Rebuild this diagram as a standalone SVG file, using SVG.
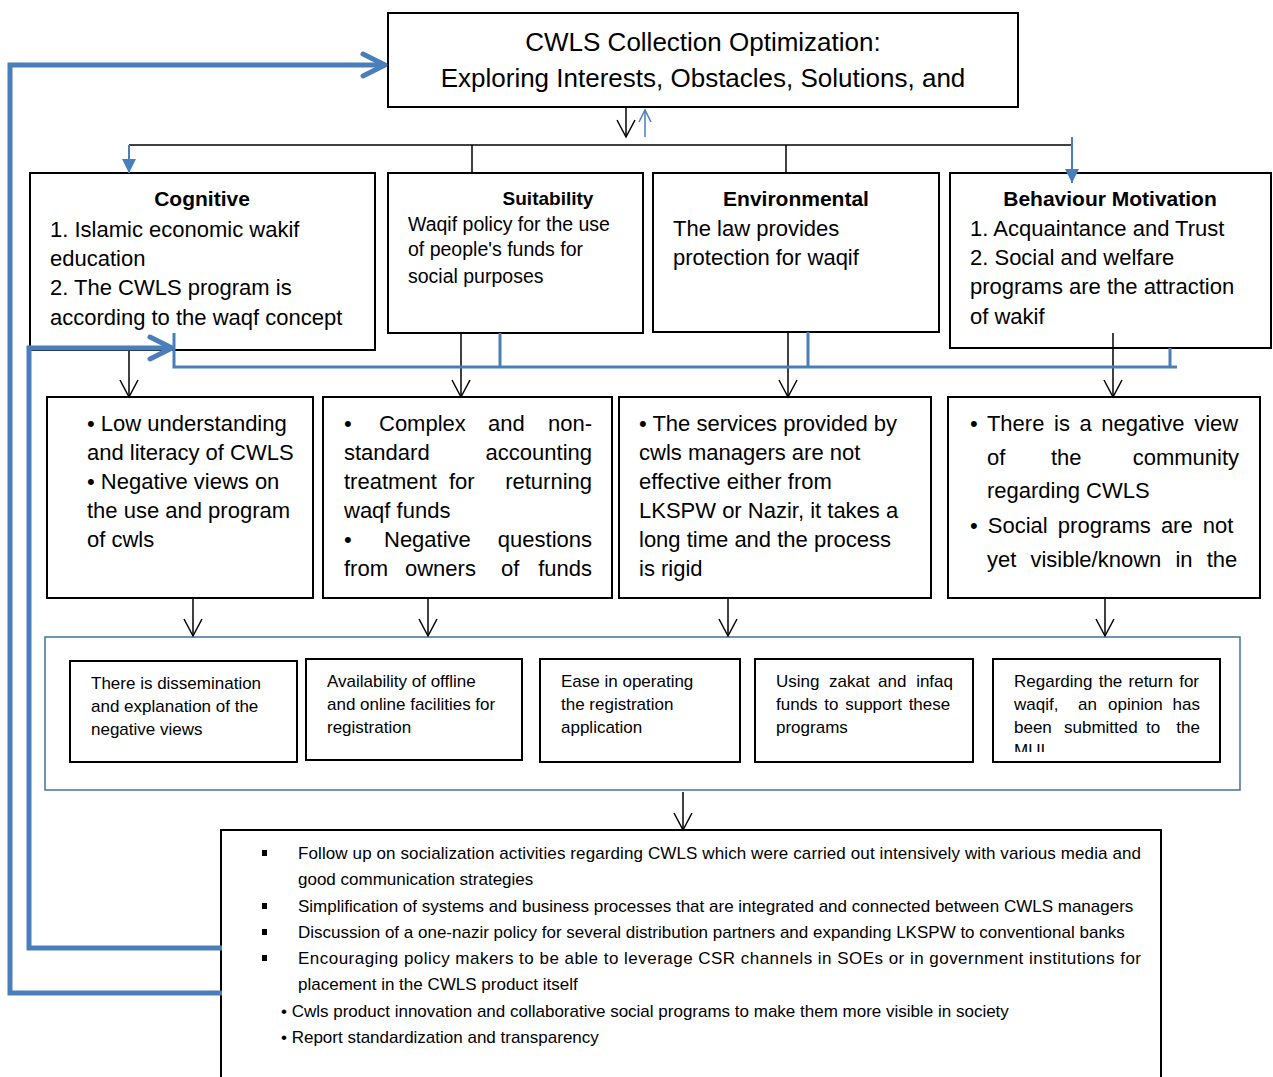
<svg xmlns="http://www.w3.org/2000/svg" width="1273" height="1077" viewBox="0 0 1273 1077">
<defs>
<style>
text{font-family:"Liberation Sans",Arial,sans-serif;fill:#000}
.box{fill:#fff;stroke:#000;stroke-width:2}
.cont{fill:none;stroke:#41719c;stroke-width:1.5}
.t26{font-size:26px}
.h{font-size:21px;font-weight:bold;text-anchor:middle}
.h19{font-size:19px;font-weight:bold;text-anchor:middle}
.t22{font-size:22px}
.t19{font-size:19.5px}
.t17{font-size:17px}
.e{text-anchor:end}
.blk{fill:none;stroke:#000;stroke-width:1.5}
.bl{fill:none;stroke:#4a7ebb}
</style>
<marker id="ob" markerUnits="userSpaceOnUse" markerWidth="40" markerHeight="40" refX="0" refY="0" orient="auto" overflow="visible">
<path d="M-17,-9 L0,0 L-17,9" fill="none" stroke="#000" stroke-width="1.5"/>
</marker>
<marker id="obl" markerUnits="userSpaceOnUse" markerWidth="40" markerHeight="40" refX="0" refY="0" orient="auto" overflow="visible">
<path d="M-12,-6 L0,0 L-12,6" fill="none" stroke="#4a7ebb" stroke-width="1.5"/>
</marker>
<marker id="tri" markerUnits="userSpaceOnUse" markerWidth="40" markerHeight="40" refX="0" refY="0" orient="auto" overflow="visible">
<path d="M-14,-7 L0,0 L-14,7 Z" fill="#4a7ebb" stroke="none"/>
</marker>
<marker id="big" markerUnits="userSpaceOnUse" markerWidth="60" markerHeight="60" refX="0" refY="0" orient="auto" overflow="visible">
<path d="M-22,-11 L0,0 L-22,11" fill="none" stroke="#4a7ebb" stroke-width="5" stroke-linecap="round" stroke-linejoin="round"/>
</marker>
<clipPath id="c5"><rect x="994" y="660" width="225" height="92"/></clipPath>
</defs>

<g id="title">
<rect class="box" x="388" y="13" width="630" height="94"/>
<text class="t26" x="703" y="51" text-anchor="middle">CWLS Collection Optimization:</text>
<text class="t26" x="703" y="87" text-anchor="middle">Exploring Interests, Obstacles, Solutions, and</text>
</g>

<g id="cognitive">
<rect class="box" x="30" y="173" width="345" height="177"/>
<text class="h" x="202" y="206">Cognitive</text>
<text class="t22" x="50" y="237">1. Islamic economic wakif</text>
<text class="t22" x="50" y="266">education</text>
<text class="t22" x="50" y="295">2. The CWLS program is</text>
<text class="t22" x="50" y="325">according to the waqf concept</text>
</g>

<g id="suitability">
<rect class="box" x="388" y="173" width="255" height="160"/>
<text class="h19" x="548" y="205">Suitability</text>
<text class="t19" x="408" y="231">Waqif policy for the use</text>
<text class="t19" x="408" y="256">of people's funds for</text>
<text class="t19" x="408" y="283">social purposes</text>
</g>

<g id="environmental">
<rect class="box" x="653" y="173" width="286" height="159"/>
<text class="h" x="796" y="206">Environmental</text>
<text class="t22" x="673" y="236">The law provides</text>
<text class="t22" x="673" y="265">protection for waqif</text>
</g>

<g id="behaviour">
<rect class="box" x="950" y="173" width="321" height="175"/>
<text class="h" x="1110" y="206">Behaviour Motivation</text>
<text class="t22" x="970" y="236">1. Acquaintance and Trust</text>
<text class="t22" x="970" y="265">2. Social and welfare</text>
<text class="t22" x="970" y="294">programs are the attraction</text>
<text class="t22" x="970" y="324">of wakif</text>
</g>

<g id="obstacle-cognitive">
<rect class="box" x="47" y="397" width="266" height="201"/>
<text class="t22" x="87" y="431">• Low understanding</text>
<text class="t22" x="87" y="460">and literacy of CWLS</text>
<text class="t22" x="87" y="489">• Negative views on</text>
<text class="t22" x="87" y="518">the use and program</text>
<text class="t22" x="87" y="547">of cwls</text>
</g>

<g id="obstacle-suitability">
<rect class="box" x="323" y="397" width="289" height="201"/>
<text class="t22" x="344" y="431">•</text>
<text class="t22" x="379" y="431">Complex</text>
<text class="t22" x="488" y="431">and</text>
<text class="t22 e" x="592" y="431">non-</text>
<text class="t22" x="344" y="460">standard</text>
<text class="t22 e" x="592" y="460">accounting</text>
<text class="t22" x="344" y="489">treatment</text>
<text class="t22" x="449" y="489">for</text>
<text class="t22 e" x="592" y="489">returning</text>
<text class="t22" x="344" y="518">waqf funds</text>
<text class="t22" x="344" y="547">•</text>
<text class="t22" x="384" y="547">Negative</text>
<text class="t22 e" x="592" y="547">questions</text>
<text class="t22" x="344" y="576">from</text>
<text class="t22" x="405" y="576">owners</text>
<text class="t22" x="501" y="576">of</text>
<text class="t22 e" x="592" y="576">funds</text>
</g>

<g id="obstacle-environmental">
<rect class="box" x="619" y="397" width="312" height="201"/>
<text class="t22" x="639" y="431">• The services provided by</text>
<text class="t22" x="639" y="460">cwls managers are not</text>
<text class="t22" x="639" y="489">effective either from</text>
<text class="t22" x="639" y="518">LKSPW or Nazir, it takes a</text>
<text class="t22" x="639" y="547">long time and the process</text>
<text class="t22" x="639" y="576">is rigid</text>
</g>

<g id="obstacle-behaviour">
<rect class="box" x="948" y="397" width="312" height="201"/>
<text class="t22" x="970" y="431" style="word-spacing:3.5px">• There is a negative view</text>
<text class="t22" x="987" y="465">of</text>
<text class="t22" x="1051" y="465">the</text>
<text class="t22 e" x="1239" y="465">community</text>
<text class="t22" x="987" y="498">regarding CWLS</text>
<text class="t22" x="970" y="533" style="word-spacing:4px">• Social programs are not</text>
<text class="t22" x="987" y="567" style="word-spacing:8px">yet visible/known in the</text>
</g>

<g id="solutions">
<rect class="cont" x="45" y="637" width="1195" height="153"/>
<g id="sol1">
<rect class="box" x="70" y="661" width="227" height="101"/>
<text class="t17" x="91" y="689">There is dissemination</text>
<text class="t17" x="91" y="712">and explanation of the</text>
<text class="t17" x="91" y="735">negative views</text>
</g>
<g id="sol2">
<rect class="box" x="306" y="659" width="216" height="101"/>
<text class="t17" x="327" y="687">Availability of offline</text>
<text class="t17" x="327" y="710">and online facilities for</text>
<text class="t17" x="327" y="733">registration</text>
</g>
<g id="sol3">
<rect class="box" x="540" y="659" width="200" height="103"/>
<text class="t17" x="561" y="687">Ease in operating</text>
<text class="t17" x="561" y="710">the registration</text>
<text class="t17" x="561" y="733">application</text>
</g>
<g id="sol4">
<rect class="box" x="755" y="659" width="218" height="103"/>
<text class="t17" x="776" y="687">Using</text>
<text class="t17" x="829" y="687">zakat</text>
<text class="t17" x="878" y="687">and</text>
<text class="t17 e" x="953" y="687">infaq</text>
<text class="t17" x="776" y="710" style="word-spacing:2px">funds to support these</text>
<text class="t17" x="776" y="733">programs</text>
</g>
<g id="sol5">
<rect class="box" x="993" y="659" width="227" height="103"/>
<text class="t17" x="1014" y="687" style="word-spacing:1.5px">Regarding the return for</text>
<text class="t17" x="1014" y="710">waqif,</text>
<text class="t17" x="1078" y="710">an</text>
<text class="t17" x="1108" y="710">opinion</text>
<text class="t17 e" x="1200" y="710">has</text>
<text class="t17" x="1014" y="733">been</text>
<text class="t17" x="1064" y="733">submitted</text>
<text class="t17" x="1146" y="733">to</text>
<text class="t17 e" x="1200" y="733">the</text>
<text class="t17" x="1014" y="756" clip-path="url(#c5)">MUI</text>
</g>
</g>

<g id="recommendations">
<rect class="box" x="221" y="830" width="940" height="260"/>
<rect x="262" y="850" width="5" height="6" fill="#000"/>
<rect x="262" y="903" width="5" height="6" fill="#000"/>
<rect x="262" y="929" width="5" height="6" fill="#000"/>
<rect x="262" y="955" width="5" height="6" fill="#000"/>
<text class="t17" x="298" y="859" textLength="843">Follow up on socialization activities regarding CWLS which were carried out intensively with various media and</text>
<text class="t17" x="298" y="885">good communication strategies</text>
<text class="t17" x="298" y="912">Simplification of systems and business processes that are integrated and connected between CWLS managers</text>
<text class="t17" x="298" y="938">Discussion of a one-nazir policy for several distribution partners and expanding LKSPW to conventional banks</text>
<text class="t17" x="298" y="964" textLength="843">Encouraging policy makers to be able to leverage CSR channels in SOEs or in government institutions for</text>
<text class="t17" x="298" y="990">placement in the CWLS product itself</text>
<text class="t17" x="281" y="1017">• Cwls product innovation and collaborative social programs to make them more visible in society</text>
<text class="t17" x="281" y="1043">• Report standardization and transparency</text>
</g>

<g id="connectors">
<path class="blk" d="M626,107 L626,137" marker-end="url(#ob)"/>
<path class="bl" stroke-width="1.5" d="M645,137 L645,110" marker-end="url(#obl)"/>
<path class="blk" d="M129,145 L1072,145"/>
<path class="blk" d="M472,145 L472,173"/>
<path class="blk" d="M786,145 L786,173"/>
<path class="bl" stroke-width="2" d="M129,145 L129,173" marker-end="url(#tri)"/>
<path class="bl" stroke-width="2" d="M1072,137 L1072,183" marker-end="url(#tri)"/>
<path class="blk" d="M129,350 L129,397" marker-end="url(#ob)"/>
<path class="blk" d="M461,333 L461,397" marker-end="url(#ob)"/>
<path class="blk" d="M788,332 L788,397" marker-end="url(#ob)"/>
<path class="blk" d="M1113,333 L1113,397" marker-end="url(#ob)"/>
<path class="bl" stroke-width="3" d="M174,333 L174,367 L1177,367"/>
<path class="bl" stroke-width="3" d="M500,333 L500,367"/>
<path class="bl" stroke-width="3" d="M808,332 L808,367"/>
<path class="bl" stroke-width="3" d="M1170,348 L1170,367"/>
<path class="blk" d="M193,598 L193,636" marker-end="url(#ob)"/>
<path class="blk" d="M428,598 L428,636" marker-end="url(#ob)"/>
<path class="blk" d="M728,598 L728,636" marker-end="url(#ob)"/>
<path class="blk" d="M1105,598 L1105,636" marker-end="url(#ob)"/>
<path class="blk" d="M683,792 L683,830" marker-end="url(#ob)"/>
<path class="bl" stroke-width="5" d="M222,993 L10,993 L10,65 L385,65" marker-end="url(#big)"/>
<path class="bl" stroke-width="5" d="M222,948 L29,948 L29,348 L172,348" marker-end="url(#big)"/>
</g>
</svg>
